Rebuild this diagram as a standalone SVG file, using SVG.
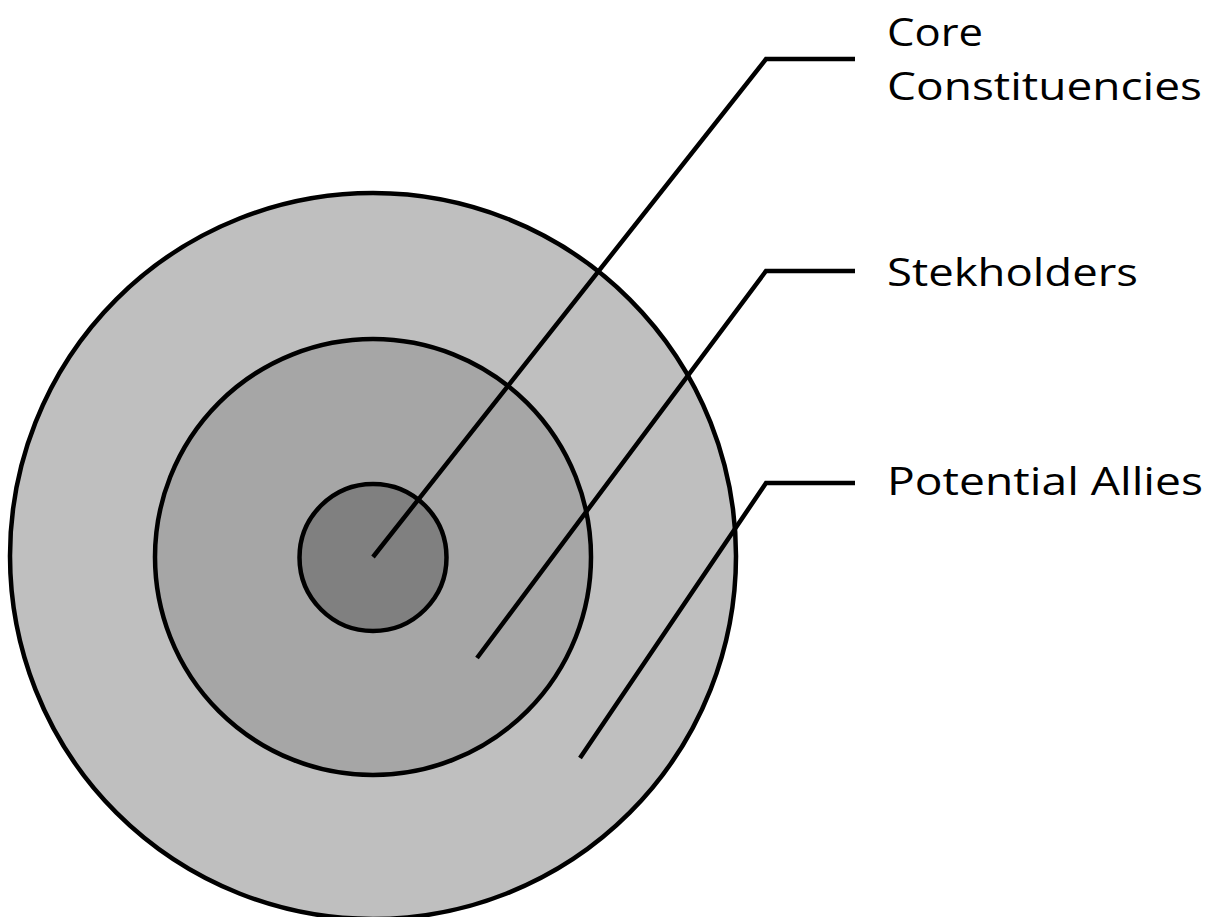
<svg xmlns="http://www.w3.org/2000/svg" width="1221" height="917" viewBox="0 0 1221 917">
<style>
.ring{stroke:#000;stroke-width:4.5}
.lead{fill:none;stroke:#000;stroke-width:4.5;stroke-linejoin:miter}
.lbl{font-family:"Open Sans","Noto Sans","Liberation Sans",sans-serif;font-size:39px;fill:#000}
</style>
<rect width="1221" height="917" fill="#fff"/>
<g id="potential-allies-ring"><circle class="ring" cx="373" cy="556" r="363" fill="#BFBFBF"/></g>
<g id="stakeholders-ring"><circle class="ring" cx="373" cy="557" r="218" fill="#A6A6A6"/></g>
<g id="core-ring"><circle class="ring" cx="373" cy="557.5" r="73.5" fill="#808080"/></g>
<g id="connectors">
<polyline class="lead" points="373,557 766,59 855,59"/>
<polyline class="lead" points="477,658 766,271 855,271"/>
<polyline class="lead" points="580,758 766,483 855,483"/>
</g>
<g id="label-core">
<text class="lbl" x="887" y="46" textLength="96" lengthAdjust="spacingAndGlyphs">Core</text>
<text class="lbl" x="887" y="100" textLength="315" lengthAdjust="spacingAndGlyphs">Constituencies</text>
</g>
<g id="label-stakeholders"><text class="lbl" x="887" y="286" textLength="251" lengthAdjust="spacingAndGlyphs">Stekholders</text></g>
<g id="label-potential"><text class="lbl" x="887" y="495" textLength="316" lengthAdjust="spacingAndGlyphs">Potential Allies</text></g>
</svg>
